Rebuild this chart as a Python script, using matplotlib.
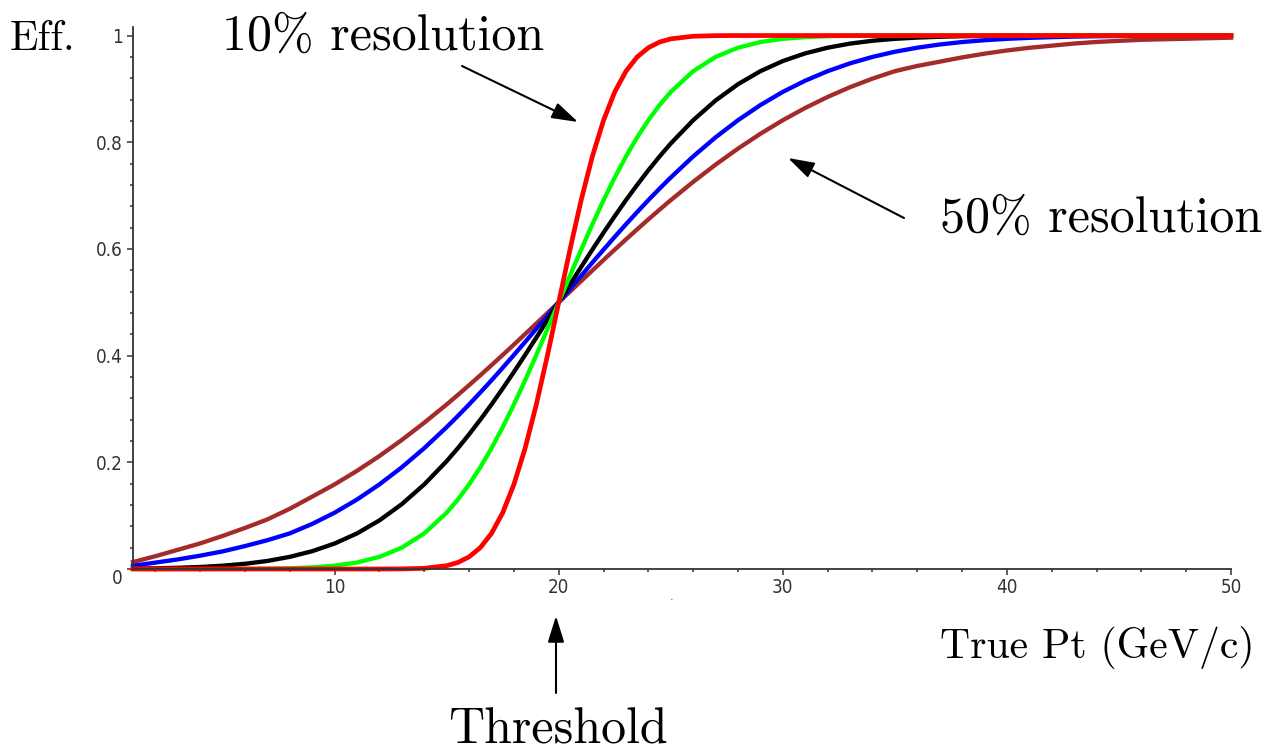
import matplotlib
matplotlib.use('Agg')
import matplotlib.pyplot as plt
import matplotlib.transforms as mtransforms
from matplotlib.ticker import MultipleLocator, FuncFormatter

# true pt grid (GeV/c), half steps around the 20 GeV threshold
pt = [1, 2, 3, 4, 5, 6, 7, 8, 9, 10, 11, 12, 13, 14, 15,
      15.5, 16, 16.5, 17, 17.5, 18, 18.5, 19, 19.5, 20, 20.5, 21, 21.5, 22, 22.5,
      23, 23.5, 24, 24.5,
      25, 26, 27, 28, 29, 30, 31, 32, 33, 34, 35, 36, 37, 38, 39, 40, 41, 42, 43,
      44, 45, 46, 47, 48, 49, 50]

# efficiency
eff_10 = [0, 0, 0, 0, 0, 0, 0, 0, 0, 0, 0, 0, 0.0002, 0.0013, 0.0062,
          0.0122, 0.0228, 0.0401, 0.0668, 0.1056, 0.1587, 0.2266, 0.3085, 0.4013, 0.5,
          0.5987, 0.6915, 0.7734, 0.8413, 0.8944, 0.9332, 0.9599, 0.9772, 0.9878,
          0.9938, 0.9987, 0.9998, 1, 1, 1, 1, 1, 1, 1, 1, 1, 1, 1, 1, 1, 1, 1, 1,
          1, 1, 1, 1, 1, 1, 1]
eff_20 = [0, 0, 0, 0, 0.0001, 0.0002, 0.0006, 0.0013, 0.003, 0.0062, 0.0122, 0.0228,
          0.0401, 0.0668, 0.1056,
          0.1303, 0.1587, 0.1908, 0.2266, 0.266, 0.3085, 0.3538, 0.4013, 0.4503, 0.5,
          0.5497, 0.5987, 0.6462, 0.6915, 0.734, 0.7734, 0.8092, 0.8413, 0.8697,
          0.8944, 0.9332, 0.9599, 0.9772, 0.9878, 0.9938, 0.997, 0.9987, 0.9994,
          0.9998, 0.9999, 1, 1, 1, 1, 1, 1, 1, 1, 1, 1, 1, 1, 1, 1, 1]
eff_30 = [0.0008, 0.0013, 0.0023, 0.0038, 0.0062, 0.0098, 0.0151, 0.0228, 0.0334,
          0.0478, 0.0668, 0.0912, 0.1217, 0.1587, 0.2023,
          0.2266, 0.2525, 0.2799, 0.3085, 0.3385, 0.3694, 0.4013, 0.4338, 0.4668, 0.5,
          0.5332, 0.5662, 0.5987, 0.6306, 0.6615, 0.6915, 0.7201, 0.7475, 0.7734,
          0.7977, 0.8413, 0.8783, 0.9088, 0.9332, 0.9522, 0.9666, 0.9772, 0.9849,
          0.9902, 0.9938, 0.9962, 0.9977, 0.9987, 0.9992, 0.9996, 0.9998, 0.9999,
          1, 1, 1, 1, 1, 1, 1, 1]
eff_40 = [0.006, 0.012, 0.018, 0.025, 0.033, 0.043, 0.054, 0.0668, 0.0846, 0.1056,
          0.1303, 0.1587, 0.1908, 0.2266, 0.266,
          0.2869, 0.3085, 0.3309, 0.3538, 0.3773, 0.4013, 0.4256, 0.4503, 0.4751, 0.5,
          0.5249, 0.5497, 0.5744, 0.5987, 0.6227, 0.6462, 0.6691, 0.6915, 0.7131,
          0.734, 0.7734, 0.8092, 0.8413, 0.8697, 0.8944, 0.9154, 0.9332, 0.9479,
          0.9599, 0.9696, 0.9772, 0.9832, 0.9878, 0.9912, 0.9938, 0.9957, 0.997,
          0.998, 0.9987, 0.9991, 0.9994, 0.9996, 0.9998, 0.9998, 0.9999]
eff_50 = [0.013, 0.024, 0.036, 0.048, 0.062, 0.077, 0.093, 0.113, 0.1357, 0.1587,
          0.1841, 0.2119, 0.242, 0.2743, 0.3085,
          0.3264, 0.3446, 0.3632, 0.3821, 0.4013, 0.4207, 0.4404, 0.4602, 0.4801, 0.5,
          0.5199, 0.5398, 0.5596, 0.5793, 0.5987, 0.6179, 0.6368, 0.6554, 0.6736,
          0.6915, 0.7257, 0.758, 0.7881, 0.8159, 0.8413, 0.8643, 0.8849, 0.9032,
          0.9192, 0.9332, 0.943, 0.951, 0.959, 0.966, 0.972, 0.977, 0.981, 0.985,
          0.988, 0.99, 0.992, 0.993, 0.994, 0.995, 0.996]

W, H = 1270, 751


def fx(px):
    return px / W


def fy(py):
    return 1 - py / H


fig = plt.figure(figsize=(W / 100, H / 100), dpi=100)
ax = fig.add_axes([fx(133), fy(569), (1231 - 133) / W, (569 - 27) / H])

# widest first so the 10% curve sits on top
curves = [(eff_50, '#a52a2a', 3.1), (eff_40, '#0000ff', 3.1), (eff_30, '#000000', 3.1),
          (eff_20, '#00ff00', 3.1), (eff_10, '#ff0000', 3.4)]
for eff, col, lw in curves:
    ax.plot(pt, eff, color=col, lw=lw, clip_on=False, solid_joinstyle='round')

ax.set_xlim(1, 50)
ax.set_ylim(0, 1.016)
for s in ['top', 'right']:
    ax.spines[s].set_visible(False)
for s in ['left', 'bottom']:
    ax.spines[s].set_linewidth(1.3)
    ax.spines[s].set_color('#333333')

tick_font = dict(family='DejaVu Sans', stretch='condensed', size=13.5, color='#333333')

ax.xaxis.set_major_locator(MultipleLocator(10))
ax.xaxis.set_minor_locator(MultipleLocator(2))
ax.yaxis.set_major_locator(MultipleLocator(0.2))
ax.yaxis.set_minor_locator(MultipleLocator(0.04))
# the origin label is drawn separately, Maple puts it a bit below the axis
ax.yaxis.set_major_formatter(FuncFormatter(lambda v, p: '' if v == 0 else '%g' % round(v, 2)))
ax.tick_params(which='major', length=4.5, width=1.1, color='#333333')
ax.tick_params(which='minor', length=2.5, width=1.1, color='#333333')
ax.tick_params(axis='x', pad=2)
ax.tick_params(axis='y', pad=3)
for lab in ax.get_xticklabels() + ax.get_yticklabels():
    lab.set_family(tick_font['family'])
    lab.set_stretch(tick_font['stretch'])
    lab.set_fontsize(tick_font['size'])
    lab.set_color(tick_font['color'])

zero_tr = ax.get_yaxis_transform() + mtransforms.ScaledTranslation(-0.1, -0.09, fig.dpi_scale_trans)
ax.text(0, 0, '0', transform=zero_tr, ha='right', va='center', **tick_font)

cm = dict(family='cmr10', color='black', va='baseline')
fig.text(fx(10), fy(50), 'Eff.', fontsize=30, **cm)
fig.text(fx(222), fy(50), '10% resolution', fontsize=36, **cm)
fig.text(fx(940), fy(232), '50% resolution', fontsize=36, **cm)
fig.text(fx(940), fy(658), 'True Pt (GeV/c)', fontsize=30, **cm)
fig.text(fx(558), fy(743), 'Threshold', fontsize=36, ha='center', **cm)
fig.text(fx(670), fy(600), '.', fontsize=8, color='#444444')

arrow = dict(arrowstyle='-|>,head_length=0.8,head_width=0.25', color='black',
             lw=1.5, mutation_scale=20, shrinkA=0, shrinkB=0)
ax.annotate('', xy=(fx(578), fy(122)), xytext=(fx(462), fy(66)),
            xycoords='figure fraction', textcoords='figure fraction', arrowprops=arrow)
ax.annotate('', xy=(fx(788), fy(158)), xytext=(fx(904), fy(218)),
            xycoords='figure fraction', textcoords='figure fraction', arrowprops=arrow)
ax.annotate('', xy=(fx(556), fy(616)), xytext=(fx(556), fy(693)),
            xycoords='figure fraction', textcoords='figure fraction', arrowprops=arrow)

fig.savefig('out.png', dpi=100)
